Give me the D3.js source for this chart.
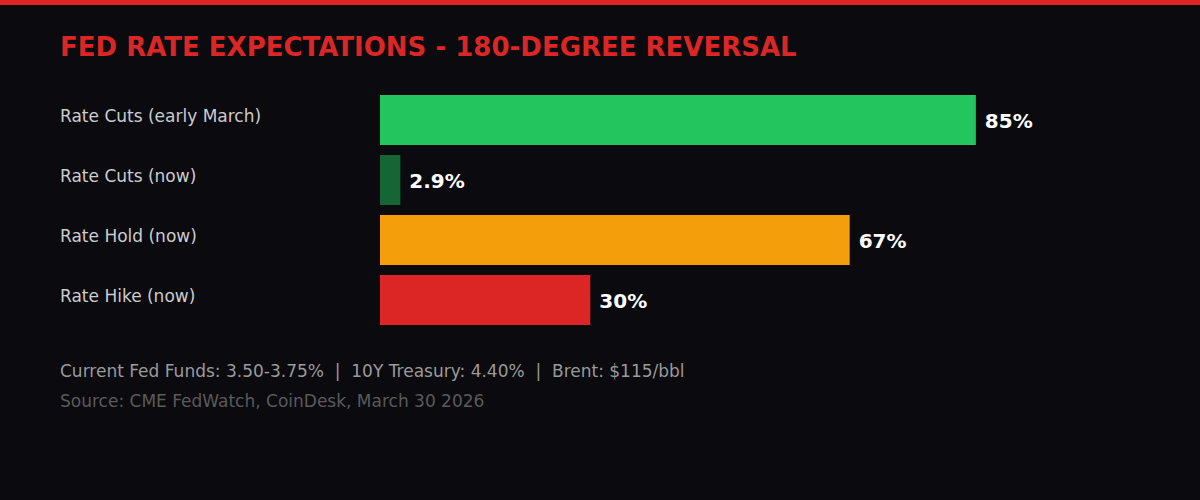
<!DOCTYPE html>
<html>
<head>
<meta charset="utf-8">
<script src="https://cdn.jsdelivr.net/npm/d3@7"></script>
<style>
  body { margin: 0; background: #0a0a0f; }
  svg { display: block; font-family: "DejaVu Sans", sans-serif; }
</style>
</head>
<body>
<svg width="1200" height="500"></svg>
<script>
// Data
const categories = ['Rate Cuts (early March)', 'Rate Cuts (now)', 'Rate Hold (now)', 'Rate Hike (now)'];
const values = [85, 2.9, 67, 30];
const valueLabels = ['85%', '2.9%', '67%', '30%'];
const barColors = ['#22c55e', '#166534', '#f59e0b', '#dc2626'];

const svg = d3.select('svg');
const width = +svg.attr('width');
const height = +svg.attr('height');

svg.append('rect').attr('width', width).attr('height', height).attr('fill', '#0a0a0f');
svg.append('rect').attr('width', width).attr('height', 5).attr('fill', '#dc2626');

svg.append('text')
    .attr('x', 60).attr('y', 56)
    .attr('fill', '#dc2626')
    .attr('font-size', 26).attr('font-weight', 'bold')
    .text('FED RATE EXPECTATIONS - 180-DEGREE REVERSAL');

const x = d3.scaleLinear().domain([0, 100]).range([380, 1081]);
const y = d3.scaleBand().domain(categories).range([90, 330]).paddingInner(1/6).paddingOuter(1/12);

const rows = svg.append('g')
  .selectAll('g')
  .data(categories)
  .join('g')
    .attr('transform', d => `translate(0, ${y(d)})`);

rows.append('text')
    .attr('x', 60).attr('y', y.bandwidth() / 2)
    .attr('dy', '0.1em')
    .attr('fill', '#cccccc')
    .attr('font-size', 17)
    .text(d => d);

rows.append('rect')
    .attr('x', x(0))
    .attr('width', (d, i) => x(values[i]) - x(0))
    .attr('height', y.bandwidth())
    .attr('fill', (d, i) => barColors[i]);

rows.append('text')
    .attr('x', (d, i) => x(values[i]) + 9)
    .attr('y', y.bandwidth() / 2)
    .attr('dy', '0.42em')
    .attr('fill', '#ffffff')
    .attr('font-size', 20).attr('font-weight', 'bold')
    .text((d, i) => valueLabels[i]);

svg.append('text')
    .attr('x', 60).attr('y', 377)
    .attr('fill', '#9a9a9a').attr('font-size', 17)
    .attr('xml:space', 'preserve')
    .text('Current Fed Funds: 3.50-3.75%  |  10Y Treasury: 4.40%  |  Brent: $115/bbl');

svg.append('text')
    .attr('x', 60).attr('y', 407)
    .attr('fill', '#5a5a5a').attr('font-size', 17)
    .text('Source: CME FedWatch, CoinDesk, March 30 2026');
</script>
</body>
</html>
